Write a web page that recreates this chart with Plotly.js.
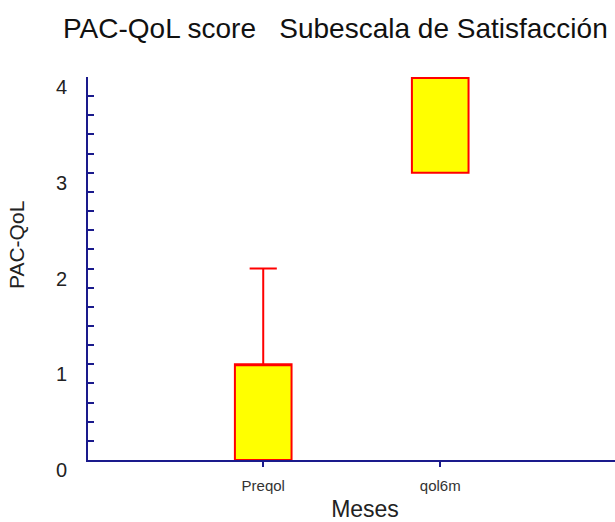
<!DOCTYPE html>
<html>
<head>
<meta charset="utf-8">
<script src="https://cdn.plot.ly/plotly-3.0.1.min.js"></script>
<style>html,body{margin:0;padding:0;overflow:hidden;background:#fff;}#chart{width:645px;height:522px;}</style>
</head>
<body>
<div id="chart"></div>
<script>
const categories = ['Preqol', 'qol6m'];
const q1 = [0, 3];
const median = [1, 4];
const q3 = [1, 4];
const lowerfence = [0, 3];
const upperfence = [2, 4];
const yTickVals = [0, 1, 2, 3, 4];

const axisColor = '#1a1a8c';
const font = 'Liberation Sans, Arial, sans-serif';

const trace = {
  type: 'box',
  x: categories,
  q1: q1,
  median: median,
  q3: q3,
  lowerfence: lowerfence,
  upperfence: upperfence,
  fillcolor: '#ffff00',
  line: {color: '#ff0000', width: 2},
  width: 0.32,
  whiskerwidth: 0.48,
  boxpoints: false,
  hoverinfo: 'skip'
};

const layout = {
  width: 645,
  height: 522,
  margin: {l: 88, r: 3, t: 77, b: 62},
  paper_bgcolor: '#ffffff',
  plot_bgcolor: '#ffffff',
  showlegend: false,
  font: {family: font, color: '#222'},
  title: {
    text: 'PAC-QoL score   Subescala de Satisfacción',
    font: {family: font, size: 28, color: '#111'},
    x: 63 / 645, xanchor: 'left', xref: 'container',
    y: 1 - 28 / 522, yanchor: 'middle', yref: 'container'
  },
  xaxis: {
    type: 'category',
    range: [-0.99, 2.14],
    showgrid: false,
    zeroline: false,
    showline: true,
    linecolor: axisColor,
    linewidth: 2,
    ticks: 'outside',
    ticklen: 5,
    tickwidth: 2,
    tickcolor: axisColor,
    ticklabelstandoff: 6,
    tickfont: {family: font, size: 15, color: '#333'},
    title: {text: 'Meses', font: {family: font, size: 23, color: '#222'}, standoff: 9}
  },
  yaxis: {
    range: [0, 4],
    tickvals: yTickVals,
    showgrid: false,
    zeroline: false,
    showline: true,
    linecolor: axisColor,
    linewidth: 2,
    ticks: 'inside',
    ticklen: 6,
    tickwidth: 2,
    tickcolor: axisColor,
    minor: {dtick: 0.2, ticks: 'inside', ticklen: 6, tickwidth: 2, tickcolor: axisColor, showgrid: false},
    ticklabelstandoff: 15,
    ticklabelshift: 10,
    tickfont: {family: font, size: 20, color: '#222'}
  },
  annotations: [{
    text: 'PAC-QoL',
    textangle: -90,
    xref: 'paper', yref: 'paper',
    x: (16 - 88) / 554, y: (460 - 245) / 383,
    xanchor: 'center', yanchor: 'middle',
    showarrow: false,
    font: {family: font, size: 21, color: '#222'}
  }]
};

Plotly.newPlot('chart', [trace], layout, {displayModeBar: false, staticPlot: true});
</script>
</body>
</html>
